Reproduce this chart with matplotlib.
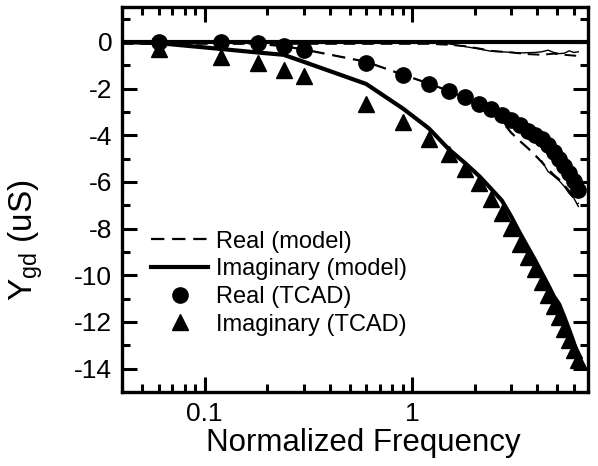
import matplotlib
matplotlib.use("Agg")
import matplotlib.pyplot as plt
from matplotlib.ticker import MultipleLocator, FixedLocator, FixedFormatter, LogLocator, NullFormatter

plt.rcParams['font.family'] = ['Liberation Sans', 'DejaVu Sans']
plt.rcParams['mathtext.fontset'] = 'custom'
plt.rcParams['mathtext.rm'] = 'Liberation Sans'

# TCAD points
f_tcad = [0.06, 0.12, 0.18, 0.24, 0.3, 0.6, 0.9, 1.2, 1.5, 1.8, 2.1, 2.4, 2.7,
          3.0, 3.3, 3.6, 3.9, 4.2, 4.5, 4.8, 5.1, 5.4, 5.7, 6.0, 6.3]
real_tcad = [0.0, 0.0, -0.03, -0.18, -0.35, -0.88, -1.42, -1.78, -2.08, -2.37, -2.67,
             -2.87, -3.12, -3.35, -3.58, -3.8, -3.97, -4.17, -4.43, -4.7, -5.0, -5.3,
             -5.6, -5.95, -6.35]
imag_tcad = [-0.28, -0.63, -0.92, -1.2, -1.45, -2.64, -3.43, -4.14, -4.8, -5.43, -6.03,
             -6.75, -7.33, -7.98, -8.65, -9.23, -9.75, -10.27, -10.85, -11.33, -11.8,
             -12.3, -12.78, -13.2, -13.65]

# model curves
f_model = [0.04, 0.06, 0.12, 0.18, 0.24, 0.3, 0.6, 0.9, 1.2, 1.5, 1.8, 2.1, 2.4, 2.7,
           3.0, 3.3, 3.6, 3.9, 4.2, 4.5, 4.8, 5.1, 5.4, 5.7, 6.0, 6.3]
real_model = [0.0, 0.0, -0.02, -0.08, -0.18, -0.32, -0.85, -1.4, -1.78, -2.1, -2.4, -2.7,
              -3.0, -3.4, -3.9, -4.25, -4.55, -4.85, -5.15, -5.45, -5.7, -5.9, -6.15,
              -6.4, -6.7, -6.95]
imag_model = [0.0, -0.05, -0.3, -0.45, -0.55, -0.85, -1.8, -2.85, -3.7, -4.6, -5.2, -5.75,
              -6.3, -6.8, -7.5, -8.2, -8.8, -9.35, -9.9, -10.4, -10.9, -11.25, -11.8,
              -12.35, -12.9, -13.7]

# thin curves near zero and near the end of the real part
f_near0_dash = [0.04, 1.2, 1.5, 1.8, 2.1, 2.4, 3.0, 3.6, 4.2, 4.8, 5.4, 6.3]
near0_dash = [-0.08, -0.08, -0.12, -0.18, -0.28, -0.38, -0.45, -0.52, -0.55, -0.5, -0.55, -0.6]
f_near0_thin = [1.2, 1.5, 1.8, 2.1, 2.4, 2.7, 3.3, 3.9, 4.2, 4.5, 4.8, 5.1, 5.4, 5.7, 6.0, 6.3]
near0_thin = [-0.03, -0.08, -0.2, -0.3, -0.4, -0.42, -0.47, -0.45, -0.42, -0.35, -0.45,
              -0.5, -0.48, -0.38, -0.45, -0.42]
f_end_thin = [4.2, 4.5, 4.8, 5.1, 5.4, 5.7, 6.0, 6.3]
end_thin = [-5.1, -5.55, -5.75, -5.95, -6.2, -6.5, -6.7, -7.05]

fig = plt.figure(figsize=(5.98, 4.66), dpi=100)
ax = fig.add_axes([0.204, 0.159, 0.779, 0.826])

ax.axhline(0, color='black', lw=3)
ax.plot(f_near0_dash, near0_dash, color='black', lw=1.4, ls=(0, (6, 3.5)))
ax.plot(f_near0_thin, near0_thin, color='black', lw=1.0)
ax.plot(f_end_thin, end_thin, color='black', lw=1.0)

ax.plot(f_model, real_model, color='black', lw=1.6, ls=(0, (6, 3.5)), label='Real (model)')
ax.plot(f_model, imag_model, color='black', lw=3, label='Imaginary (model)')
ax.plot(f_tcad, real_tcad, 'o', color='black', ms=11, label='Real (TCAD)')
ax.plot(f_tcad, imag_tcad, '^', color='black', ms=11, label='Imaginary (TCAD)')

ax.set_xscale('log')
ax.set_xlim(0.04, 7.0)
ax.set_ylim(-15, 1.5)

ax.xaxis.set_major_locator(FixedLocator([0.1, 1]))
ax.xaxis.set_major_formatter(FixedFormatter(['0.1', '1']))
ax.xaxis.set_minor_locator(LogLocator(base=10, subs=range(2, 10)))
ax.xaxis.set_minor_formatter(NullFormatter())
ax.yaxis.set_minor_locator(MultipleLocator(1))
ax.set_yticks(range(-14, 1, 2))
ax.set_yticklabels([str(v) for v in range(-14, 1, 2)])

ax.tick_params(which='both', direction='in', top=True, right=True, width=2.2)
ax.tick_params(which='major', length=11, labelsize=19, pad=7)
ax.tick_params(which='minor', length=6)
for s in ax.spines.values():
    s.set_linewidth(2.4)

ax.set_xlabel('Normalized Frequency', fontsize=22.5)
ax.xaxis.set_label_coords(0.519, -0.094)
ax.set_ylabel(r'Y$_{\mathrm{gd}}$ (uS)', fontsize=24)
ax.yaxis.set_label_coords(-0.165, 0.395)

ax.legend(loc='upper left', bbox_to_anchor=(0.253, 0.505), bbox_transform=fig.transFigure,
          frameon=False, fontsize=17, handlelength=2.4, handletextpad=0.35,
          labelspacing=0.24, borderpad=0, borderaxespad=0)

fig.savefig('out.png', dpi=100)
